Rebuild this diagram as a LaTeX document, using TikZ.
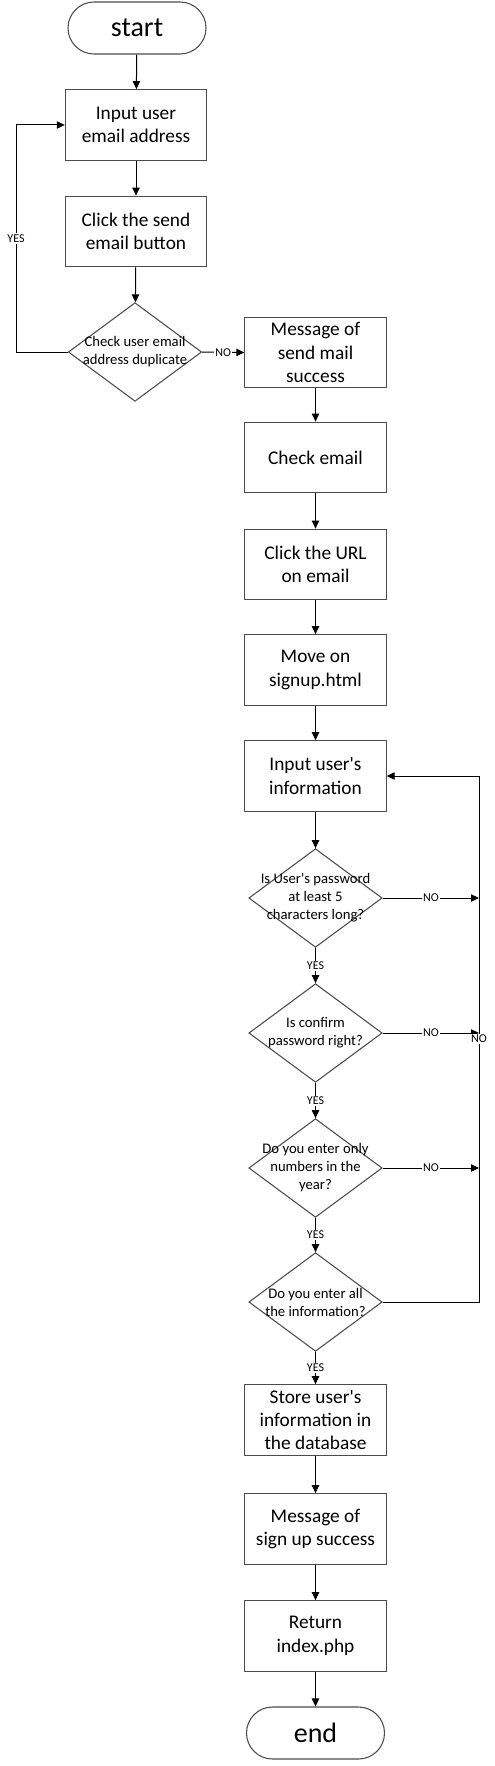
\documentclass[tikz,border=0pt]{standalone}
\usepackage{fontspec}
\setmainfont{Carlito}
\usetikzlibrary{shapes.geometric,arrows.meta}
\begin{document}
\begin{tikzpicture}[x=0.75pt,y=-0.75pt,
  box/.style={draw=black!70, fill=white, line width=0.8pt, minimum width=106pt, minimum height=53pt, align=center, font=\fontsize{14.5}{17.5}\selectfont, inner sep=0pt},
  term/.style={draw=black!70, fill=white, line width=0.8pt, rounded corners=19.5pt, minimum width=103.5pt, minimum height=39pt, inner sep=0pt, font=\fontsize{21}{24}\selectfont},
  diam/.style={draw=black!70, fill=white, line width=0.8pt, shape=diamond, minimum width=100pt, minimum height=74pt, inner sep=0pt},
  dtext/.style={align=center, font=\fontsize{11}{13.5}\selectfont, inner sep=0pt},
  arr/.style={-{Triangle[length=6pt,width=5.5pt]}, line width=0.75pt, black},
  lab/.style={fill=white, inner sep=0.8pt, font=\fontsize{9}{10}\selectfont}]
\useasboundingbox (0,0) rectangle (495,1766);
% left column
\node[term] (start) at (137,28) {start};
\node[box] (in) at (136,125) {Input user\\email address};
\node[box] (click) at (136,231.5) {Click the send\\email button};
\node[diam] (d0) at (135,352) {};
\node[dtext] at (d0) {Check user email\\address duplicate};
% right column
\node[box] (m1) at (315.5,352.5) {Message of\\send mail\\success};
\node[box] (chk) at (315.5,457.5) {Check email};
\node[box] (url) at (315.5,564.5) {Click the URL\\on email};
\node[box] (move) at (315.5,670) {Move on\\signup.html};
\node[box] (info) at (315.5,776) {Input user\textquotesingle s\\information};
\node[diam] (d1) at (315.5,898) {};
\node[dtext] at (d1) {Is User\textquotesingle s password\\at least 5\\characters long?};
\node[diam] (d2) at (315.5,1033) {};
\node[dtext] at (d2) {Is confirm\\password right?};
\node[diam] (d3) at (315.5,1168) {};
\node[dtext] at (d3) {Do you enter only\\numbers in the\\year?};
\node[diam] (d4) at (315.5,1302) {};
\node[dtext] at (d4) {Do you enter all\\the information?};
\node[box] (store) at (315.5,1420) {Store user\textquotesingle s\\information in\\the database};
\node[box] (m2) at (315.5,1529) {Message of\\sign up success};
\node[box] (ret) at (315.5,1636) {Return\\index.php};
\node[term] (end) at (315.5,1733) {end};
% coordinates
\coordinate (yl) at (16,125);
\coordinate (r1) at (479,898);
\coordinate (r2) at (479,1033);
\coordinate (r3) at (479,1168);
\coordinate (r4) at (479,1302);
% connectors
\draw[arr] (start) -- (in);
\draw[arr] (in) -- (click);
\draw[arr] (click) -- (d0);
\draw[arr] (d0.west) -| node[pos=0.75,lab]{YES} (yl) -- (in.west);
\draw[arr] (d0.east) -- node[lab]{NO} (m1.west);
\draw[arr] (m1) -- (chk);
\draw[arr] (chk) -- (url);
\draw[arr] (url) -- (move);
\draw[arr] (move) -- (info);
\draw[arr] (info) -- (d1);
\draw[arr] (d1) -- node[lab]{YES} (d2);
\draw[arr] (d2) -- node[lab]{YES} (d3);
\draw[arr] (d3) -- node[lab]{YES} (d4);
\draw[arr] (d4) -- node[lab]{YES} (store);
\draw[arr] (d1.east) -- node[lab]{NO} (r1);
\draw[arr] (d2.east) -- node[lab]{NO} (r2);
\draw[arr] (d3.east) -- node[lab]{NO} (r3);
\draw[arr] (d4.east) -- (r4) -- node[lab]{NO} (r4 |- info.east) -- (info.east);
\draw[arr] (store) -- (m2);
\draw[arr] (m2) -- (ret);
\draw[arr] (ret) -- (end);
\end{tikzpicture}
\end{document}
